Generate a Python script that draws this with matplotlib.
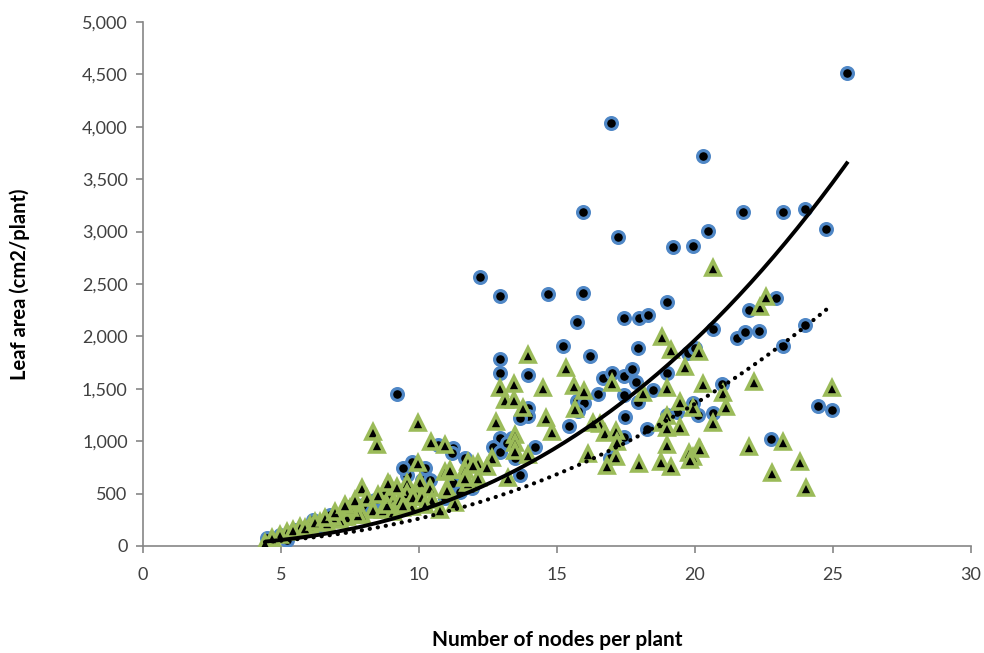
import numpy as np
import matplotlib
matplotlib.use("Agg")
import matplotlib.pyplot as plt
from matplotlib.ticker import FuncFormatter, MultipleLocator

# circles (series 1)
blue_x = [25.5, 16.96, 20.29, 15.94, 17.21, 21.74, 23.19, 23.99, 20.47, 24.75,
          19.2, 19.93, 12.21, 12.93, 14.67, 15.94, 18.99, 22.93, 21.96, 20.65,
          21.52, 21.81, 22.32, 23.99, 23.19, 15.72, 17.43, 17.97, 18.3, 15.22,
          16.2, 17.93, 19.75, 20.0, 12.93, 12.93, 13.95, 16.67, 16.99, 17.43,
          17.72, 17.86, 18.99, 18.48, 20.98, 16.49, 17.43, 17.93, 15.72, 15.98,
          15.76, 19.93, 19.35, 20.11, 20.65, 18.99, 17.46, 13.95, 13.95, 13.66,
          15.43, 18.26, 17.43, 16.99, 24.46, 24.96, 22.75, 12.93, 13.37, 12.68,
          12.93, 13.19, 14.2, 13.48, 13.66, 16.92, 11.67, 11.23, 11.2, 11.23,
          11.49, 10.69, 9.2, 9.75, 9.57, 10.22, 9.42, 10.11, 10.4, 7.46,
          7.97, 8.41, 8.33, 6.16, 6.78, 4.49, 4.96, 5.51, 6.41, 5.22,
          10.94, 11.92]
blue_y = [4513, 4036, 3721, 3187, 2948, 3187, 3187, 3216, 3006, 3025,
          2853, 2863, 2567, 2386, 2405, 2414, 2328, 2366, 2252, 2071,
          1985, 2042, 2052, 2109, 1908, 2137, 2176, 2176, 2204, 1908,
          1813, 1889, 1842, 1889, 1784, 1651, 1632, 1603, 1651, 1622,
          1689, 1565, 1651, 1489, 1546, 1450, 1441, 1374, 1384, 1364,
          1288, 1364, 1279, 1250, 1269, 1250, 1231, 1317, 1240, 1221,
          1145, 1116, 1040, 849, 1336, 1298, 1021, 1031, 1031, 945,
          897, 983, 945, 840, 677, 840, 840, 935, 887, 601,
          515, 964, 1450, 802, 677, 744, 744, 630, 630, 372,
          391, 439, 343, 248, 296, 76, 105, 153, 200, 57,
          458, 553]

# triangles (series 2)
green_x = [20.65, 22.36, 22.57, 18.8, 19.13, 20.14, 19.64, 13.95, 15.33, 12.93,
           13.44, 14.49, 15.62, 15.98, 16.99, 18.12, 18.99, 20.29, 21.01, 19.46,
           19.93, 21.12, 22.14, 24.96, 13.12, 13.44, 13.77, 15.65, 12.79, 14.6,
           14.82, 13.48, 13.48, 13.48, 13.95, 16.12, 16.56, 16.74, 16.3, 17.14,
           18.8, 18.99, 18.99, 19.46, 20.65, 17.17, 18.99, 17.14, 16.81, 17.97,
           18.77, 19.13, 19.78, 20.14, 19.93, 19.82, 20.18, 21.96, 23.19, 23.8,
           22.79, 24.02, 12.64, 11.78, 12.14, 12.46, 10.94, 10.94, 11.67, 12.14,
           13.22, 11.78, 11.01, 9.96, 8.33, 8.48, 10.43, 9.96, 7.93, 8.95,
           8.77, 9.57, 10.04, 10.4, 11.12, 11.96, 11.67, 11.01, 8.95, 9.06,
           9.57, 9.93, 9.31, 8.33, 8.7, 9.06, 9.38, 9.75, 7.75, 7.93,
           7.25, 8.88, 9.2, 9.78, 10.11, 8.84, 9.42, 7.39, 7.79, 7.14,
           6.88, 6.41, 6.67, 6.05, 5.69, 5.22, 4.96, 4.67, 4.42, 5.43,
           5.87, 6.23, 6.59, 6.96, 7.5, 7.68, 7.32, 8.12, 8.51, 10.47,
           11.3, 10.76, 10.22]
green_y = [2653, 2281, 2376, 1994, 1870, 1851, 1708, 1823, 1699, 1508,
           1546, 1508, 1527, 1479, 1555, 1460, 1508, 1546, 1460, 1374,
           1317, 1326, 1565, 1508, 1393, 1393, 1317, 1307, 1183, 1221,
           1088, 1059, 983, 906, 868, 878, 1164, 1078, 1174, 1097,
           1174, 1240, 1126, 1135, 1174, 992, 964, 849, 763, 782,
           802, 754, 887, 935, 849, 821, 926, 945, 992, 802,
           697, 553, 840, 802, 792, 754, 964, 706, 725, 649,
           649, 601, 553, 1174, 1088, 964, 992, 792, 553, 582,
           534, 601, 611, 553, 725, 773, 649, 534, 487, 410,
           506, 487, 439, 343, 343, 324, 363, 372, 324, 296,
           277, 601, 563, 468, 468, 391, 391, 277, 296, 248,
           277, 229, 219, 200, 181, 134, 105, 76, 29, 153,
           172, 229, 267, 324, 363, 439, 391, 458, 487, 439,
           410, 343, 391]

# power trendlines y = a * x^b
solid_a, solid_b = 0.946, 2.55
dotted_a, dotted_b = 1.087, 2.38

plt.rcParams['font.family'] = ['Lato', 'DejaVu Sans']

fig = plt.figure(figsize=(9.84, 6.53), dpi=100)
ax = fig.add_axes([0.1453, 0.1639, 0.8415, 0.8024])

ax.plot(blue_x, blue_y, 'o', ls='none', ms=8.5, mfc='black', mec='#4f87c6', mew=2.3, zorder=3)
ax.plot(green_x, green_y, '^', ls='none', ms=9.5, mfc='black', mec='#9bbb59', mew=2.6, zorder=4)

xs = np.linspace(min(blue_x), max(blue_x), 200)
ax.plot(xs, solid_a * xs ** solid_b, color='black', lw=2.8, zorder=5)
xd = np.linspace(min(green_x), max(green_x), 200)
ax.plot(xd, dotted_a * xd ** dotted_b, color='black', lw=3.0,
        ls=(0, (0.05, 1.9)), dash_capstyle='round', zorder=5)

ax.set_xlim(0, 30)
ax.set_ylim(0, 5000)
ax.xaxis.set_major_locator(MultipleLocator(5))
ax.yaxis.set_major_locator(MultipleLocator(500))
ax.yaxis.set_major_formatter(FuncFormatter(lambda v, p: f"{int(v):,}"))

for s in ['top', 'right']:
    ax.spines[s].set_visible(False)
for s in ['left', 'bottom']:
    ax.spines[s].set_color('#868686')
    ax.spines[s].set_linewidth(1.2)

ax.tick_params(axis='both', colors='#868686', labelcolor='#404040', labelsize=13,
               length=5, width=1.2, direction='out')
ax.tick_params(axis='x', pad=10)
ax.tick_params(axis='y', pad=6)

ax.set_xlabel('Number of nodes per plant', fontsize=15, fontweight='bold')
ax.set_ylabel('Leaf area (cm2/plant)', fontsize=14.5, fontweight='bold')
ax.xaxis.set_label_coords(0.5, -0.179)
ax.yaxis.set_label_coords(-0.1486, 0.5)
ax.xaxis.label.set_va('center')
ax.yaxis.label.set_va('center')

fig.savefig('out.png', dpi=100)
